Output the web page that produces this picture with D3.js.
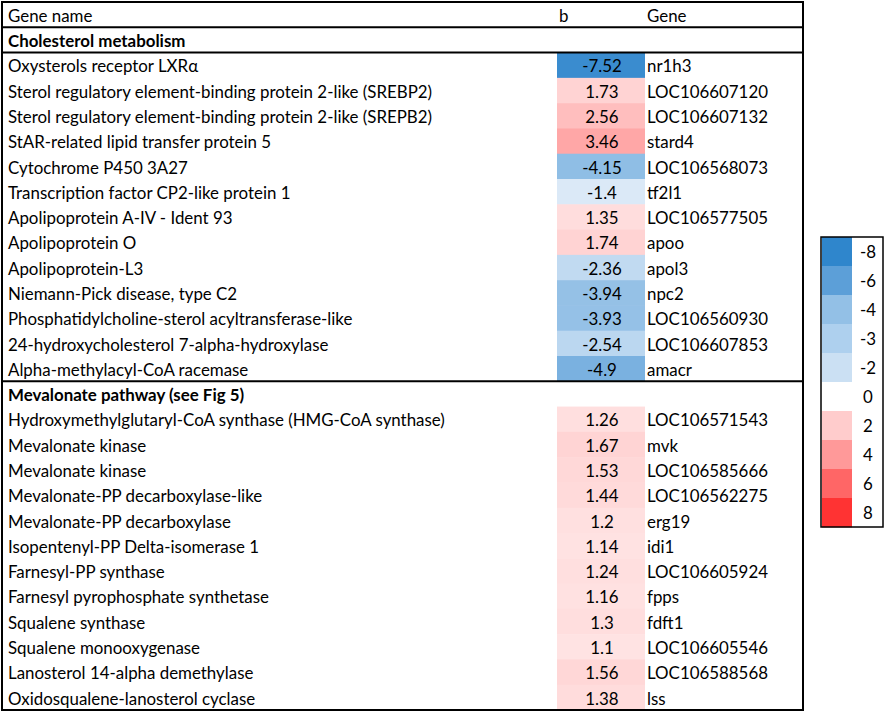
<!DOCTYPE html>
<html>
<head>
<meta charset="utf-8">
<script src="https://cdn.jsdelivr.net/npm/d3@7"></script>
<style>
  html, body { margin: 0; padding: 0; background: #fff; }
  svg { display: block; }
  text { font-family: Lato, "Open Sans", sans-serif; fill: #000; }
</style>
</head>
<body>
<svg id="chart" width="886" height="713"></svg>
<script>
// ---------- data ----------
const headerLabels = ["Gene name", "b", "Gene"];
const sectionTitles = ["Cholesterol metabolism", "Mevalonate pathway (see Fig 5)"];

const cholNames = [
  "Oxysterols receptor LXRα",
  "Sterol regulatory element-binding protein 2-like (SREBP2)",
  "Sterol regulatory element-binding protein 2-like (SREPB2)",
  "StAR-related lipid transfer protein 5",
  "Cytochrome P450 3A27",
  "Transcription factor CP2-like protein 1",
  "Apolipoprotein A-IV - Ident 93",
  "Apolipoprotein O",
  "Apolipoprotein-L3",
  "Niemann-Pick disease, type C2",
  "Phosphatidylcholine-sterol acyltransferase-like",
  "24-hydroxycholesterol 7-alpha-hydroxylase",
  "Alpha-methylacyl-CoA racemase"
];
const cholB = [-7.52, 1.73, 2.56, 3.46, -4.15, -1.4, 1.35, 1.74, -2.36, -3.94, -3.93, -2.54, -4.9];
const cholGenes = ["nr1h3", "LOC106607120", "LOC106607132", "stard4", "LOC106568073", "tf2l1",
  "LOC106577505", "apoo", "apol3", "npc2", "LOC106560930", "LOC106607853", "amacr"];

const mevNames = [
  "Hydroxymethylglutaryl-CoA synthase (HMG-CoA synthase)",
  "Mevalonate kinase",
  "Mevalonate kinase",
  "Mevalonate-PP decarboxylase-like",
  "Mevalonate-PP decarboxylase",
  "Isopentenyl-PP Delta-isomerase 1",
  "Farnesyl-PP synthase",
  "Farnesyl pyrophosphate synthetase",
  "Squalene synthase",
  "Squalene monooxygenase",
  "Lanosterol 14-alpha demethylase",
  "Oxidosqualene-lanosterol cyclase"
];
const mevB = [1.26, 1.67, 1.53, 1.44, 1.2, 1.14, 1.24, 1.16, 1.3, 1.1, 1.56, 1.38];
const mevGenes = ["LOC106571543", "mvk", "LOC106585666", "LOC106562275", "erg19", "idi1",
  "LOC106605924", "fpps", "fdft1", "LOC106605546", "LOC106588568", "lss"];

const legendValues = [-8, -6, -4, -3, -2, 0, 2, 4, 6, 8];
const legendColors = ["#2f86cc", "#5c9fd8", "#93c0e6", "#aed0ee", "#cbe0f3", "#ffffff",
  "#ffcccc", "#ff9999", "#ff6666", "#ff3333"];

// ---------- build row table ----------
const rows = [];
rows.push({type: "header"});
rows.push({type: "section", title: sectionTitles[0]});
cholNames.forEach((n, i) => rows.push({type: "data", name: n, b: cholB[i], gene: cholGenes[i]}));
rows.push({type: "section", title: sectionTitles[1]});
mevNames.forEach((n, i) => rows.push({type: "data", name: n, b: mevB[i], gene: mevGenes[i]}));

// ---------- layout ----------
const svg = d3.select("#chart");
const tableLeft = 2, tableRight = 803, tableTop = 2, tableBottom = 710;
const y = d3.scaleBand().domain(d3.range(rows.length)).range([tableTop, tableBottom]).padding(0);
const col = {name: 8, bLeft: 557, bRight: 645, gene: 647};
const color = d3.scaleLinear().domain(legendValues).range(legendColors).clamp(true);

const g = svg.append("g");

// b cells
const dataRows = rows.map((r, i) => ({...r, i})).filter(r => r.type === "data");
g.selectAll("rect.cell").data(dataRows).join("rect")
  .attr("class", "cell")
  .attr("x", col.bLeft)
  .attr("y", d => y(d.i))
  .attr("width", col.bRight - col.bLeft)
  .attr("height", y.bandwidth() + 0.5)
  .attr("fill", d => color(d.b));

const allTexts = [];
const baseSize = 16;
function addText(x, yy, str, opts = {}) {
  const t = g.append("text")
    .attr("x", x).attr("y", yy)
    .attr("font-size", baseSize)
    .attr("text-anchor", opts.anchor || "start")
    .attr("font-weight", opts.bold ? "bold" : "normal")
    .text(str);
  allTexts.push(t);
  return t;
}
const base = i => y(i) + y.bandwidth() - 5.5;

// header
addText(col.name, base(0), headerLabels[0]);
addText(col.bLeft + 2, base(0), headerLabels[1]);
addText(col.gene, base(0), headerLabels[2]);

const refTexts = [];
rows.forEach((r, i) => {
  if (r.type === "section") {
    addText(col.name, base(i), r.title, {bold: true});
  } else if (r.type === "data") {
    const t = addText(col.name, base(i), r.name);
    if (r.name.indexOf("(SREBP2)") >= 0) refTexts.push([t, 424]);
    if (r.name.indexOf("(HMG-CoA") >= 0) refTexts.push([t, 438]);
    addText((col.bLeft + col.bRight) / 2 + 1, base(i), String(r.b), {anchor: "middle"});
    addText(col.gene, base(i), r.gene);
  }
});

// lines
const lineW = 2;
g.append("rect")
  .attr("x", tableLeft).attr("y", tableTop)
  .attr("width", tableRight - tableLeft).attr("height", tableBottom - tableTop)
  .attr("fill", "none").attr("stroke", "#000").attr("stroke-width", lineW);
[1, 2, 15].forEach(i => {
  g.append("line")
    .attr("x1", tableLeft).attr("x2", tableRight)
    .attr("y1", y(i)).attr("y2", y(i))
    .attr("stroke", "#000").attr("stroke-width", lineW);
});

// legend
const ly = d3.scaleBand().domain(legendValues).range([237, 527]).padding(0);
const leg = svg.append("g");
leg.selectAll("rect.lc").data(legendValues).join("rect")
  .attr("class", "lc")
  .attr("x", 822).attr("y", d => ly(d))
  .attr("width", 30).attr("height", ly.bandwidth() + 0.3)
  .attr("fill", (d, i) => legendColors[i]);
leg.selectAll("text").data(legendValues).join("text")
  .attr("x", 868).attr("y", d => ly(d) + ly.bandwidth() / 2 + 6)
  .attr("text-anchor", "middle")
  .attr("font-size", baseSize)
  .text(d => d)
  .each(function() { allTexts.push(d3.select(this)); });
leg.append("rect")
  .attr("x", 821).attr("y", 237)
  .attr("width", 62).attr("height", 290)
  .attr("fill", "none").attr("stroke", "#000").attr("stroke-width", 1.5);

// scale fonts so that long labels best match their widths in the original
if (refTexts.length) {
  const sumW = d3.sum(refTexts, d => d[0].node().getComputedTextLength());
  const sumT = d3.sum(refTexts, d => d[1]);
  const k = sumT / sumW;
  allTexts.forEach(t => t.attr("font-size", baseSize * k));
}
</script>
</body>
</html>
